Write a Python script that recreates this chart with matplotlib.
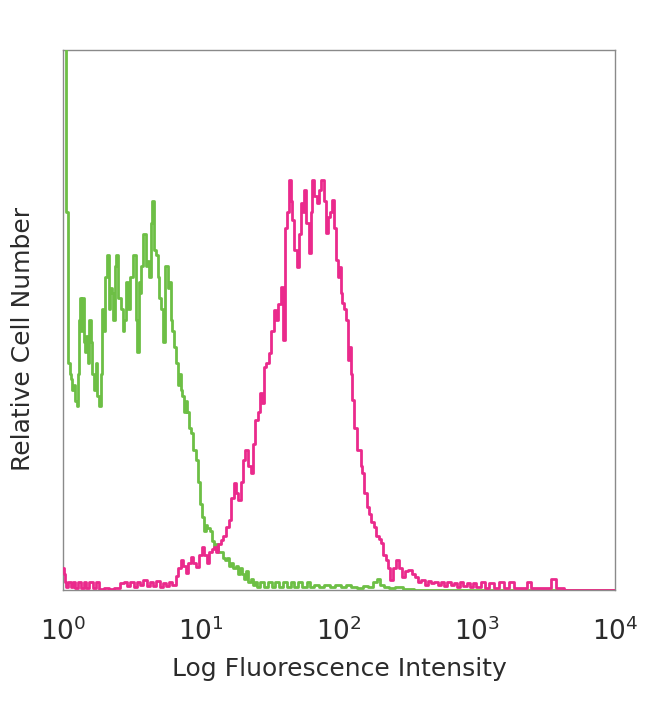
import numpy as np
import matplotlib
matplotlib.use("Agg")
import matplotlib.pyplot as plt

# flow histogram, 1024 channels over 4 decades (256 channels per decade)
# isotype control (green)
green_ch = [0, 4, 6, 9, 11, 13, 16, 19, 22, 24, 26, 28, 30, 32, 34, 37, 39, 41, 44, 47,
            50, 53, 56, 59, 62, 65, 68, 71, 74, 77, 80, 83, 86, 89, 91, 94, 97, 100, 103, 106,
            109, 112, 115, 117, 119, 122, 125, 128, 131, 134, 137, 139, 141, 144, 147, 150, 152, 155, 158, 161,
            164, 167, 170, 174, 177, 180, 184, 187, 190, 193, 196, 198, 201, 204, 208, 211, 214, 217, 220, 223,
            226, 229, 232, 236, 240, 244, 248, 252, 256, 260, 263, 266, 270, 274, 278, 282, 286, 290, 294, 298,
            302, 306, 310, 314, 318, 322, 326, 330, 334, 338, 342, 346, 350, 354, 358, 362, 370, 376, 384, 390,
            398, 404, 412, 418, 426, 432, 440, 448, 456, 462, 470, 480, 490, 500, 510, 520, 530, 540, 550, 562,
            570, 580, 586, 592, 600, 610, 620, 640, 660, 1023]
green_cnt = [125, 125, 70, 70, 42, 40, 39, 37, 38, 35, 34, 40, 50, 54, 48, 54, 46, 44, 47, 42,
             50, 46, 40, 37, 42, 36, 34, 40, 52, 48, 58, 62, 52, 56, 55, 50, 60, 62, 54, 54,
             52, 48, 50, 57, 57, 52, 58, 58, 62, 62, 50, 44, 57, 55, 60, 66, 66, 60, 61, 58,
             68, 72, 63, 62, 58, 54, 52, 46, 60, 60, 56, 57, 50, 48, 45, 42, 38, 40, 37, 36,
             33, 35, 33, 30, 29, 26, 24, 20, 16, 13.5, 11, 12, 11.5, 11, 9, 8, 8.5, 7, 7, 6,
             5.5, 6, 4.5, 5, 4, 4.5, 3, 4, 3, 2, 3.5, 1.5, 2, 1, 1.5, 0.5, 1.5, 0.5, 1.5, 0.5,
             1.5, 0.5, 1.5, 0.5, 1.5, 0.5, 1.5, 0.5, 1.5, 0.5, 1, 0.5, 1, 0.5, 1, 0.5, 1, 0.5, 0.4, 0.8,
             0.5, 1.5, 2, 1, 0.5, 0.3, 0.5, 0.2, 0, 0]

# stained sample (magenta)
mag_ch = [0, 2, 4, 8, 12, 16, 20, 26, 30, 36, 40, 46, 52, 58, 64, 70, 80, 90, 100, 110,
          116, 122, 128, 134, 140, 146, 152, 158, 164, 170, 176, 182, 188, 194, 200, 206, 212, 216, 221, 225,
          230, 235, 239, 244, 250, 255, 260, 264, 269, 273, 278, 282, 286, 290, 295, 300, 306, 310, 314, 319,
          323, 328, 332, 336, 341, 346, 351, 355, 359, 363, 367, 371, 375, 379, 384, 388, 393, 397, 401, 406,
          410, 413, 417, 421, 424, 427, 431, 436, 440, 443, 446, 449, 453, 458, 461, 464, 468, 473, 477, 482,
          486, 490, 494, 497, 501, 505, 508, 511, 514, 517, 519, 523, 527, 529, 532, 535, 538, 542, 547, 551,
          554, 557, 561, 566, 570, 574, 579, 583, 588, 592, 596, 601, 605, 610, 615, 620, 625, 631, 637, 644,
          650, 657, 662, 668, 674, 680, 686, 692, 698, 704, 710, 716, 722, 728, 734, 740, 746, 752, 758, 764,
          770, 780, 786, 796, 804, 814, 822, 832, 840, 856, 866, 872, 900, 912, 916, 940, 1023]
mag_cnt = [4, 3, 1.5, 0.5, 1.5, 0.5, 1.5, 0.3, 1.5, 0.3, 1.5, 0.3, 1.5, 0.3, 1.5, 0.2, 0.3, 0.2, 0.3, 1.3,
           1.5, 0.8, 1.5, 0.5, 1.5, 1, 1.8, 0.8, 1.5, 0.7, 1.6, 0.5, 1.2, 0.8, 1.5, 1, 2.5, 4, 5.6, 4.5,
           3.1, 5, 6.1, 5, 4.3, 6.5, 8, 6.5, 5, 7, 7.5, 8, 7, 8.5, 9.3, 10, 11.7, 13, 17, 19.8,
           18, 16.7, 20, 24, 25.9, 23, 21.7, 27, 31.5, 33, 36.5, 34.6, 41.3, 42, 43.9, 48, 51.9, 50, 53, 56.1,
           46.3, 67, 70, 75.9, 72, 68.5, 63, 59.8, 66, 71.7, 70, 74.1, 68, 62.4, 70, 75.9, 73, 71.7, 74, 75.9,
           72, 66.1, 69, 70, 72.2, 67, 61.1, 58, 59.8, 55, 53.1, 52, 50, 42.6, 45, 40, 35.2, 30, 25.9, 26,
           23, 21.7, 18, 15.4, 14, 12.5, 11.7, 10, 9.5, 8.7, 6.5, 5.6, 4, 1.9, 4, 5.6, 4, 2.4, 3.5, 3.7,
           3, 2.4, 1.5, 1.8, 1, 1.6, 1.2, 1.5, 1, 1.5, 0.8, 1.4, 1, 1.3, 0.6, 1.4, 0.8, 1.2, 0.5, 1.3,
           0.5, 1.5, 0.4, 1.2, 0.4, 1.5, 0.3, 1.4, 0.3, 0.4, 1.5, 0.3, 0.4, 2, 0.3, 0, 0]

tick_vals = [1, 10, 100, 1000, 10000]
tick_labels = ['$10^{0}$', '$10^{1}$', '$10^{2}$', '$10^{3}$', '$10^{4}$']

green_x = 10 ** (np.array(green_ch) / 256.0)
mag_x = 10 ** (np.array(mag_ch) / 256.0)

fig = plt.figure(figsize=(6.5, 7.04), dpi=100)
ax = fig.add_axes([0.097, 0.162, 0.849, 0.767])

ax.plot(green_x, green_cnt, drawstyle='steps-mid', color='#6dbf45', linewidth=2.0, zorder=3)
ax.plot(mag_x, mag_cnt, drawstyle='steps-mid', color='#ea2a8c', linewidth=2.0, zorder=4)

ax.set_xscale('log')
ax.set_xlim(1, 10000)
ax.set_ylim(0, 100)
ax.set_xticks(tick_vals)
ax.set_xticklabels(tick_labels)
ax.minorticks_off()
ax.set_yticks([])
ax.tick_params(axis='x', length=0, pad=20, labelsize=19, labelcolor='#2b2b2b')

for s in ax.spines.values():
    s.set_color('#8a8a8a')
    s.set_linewidth(1.0)

ax.set_xlabel('Log Fluorescence Intensity', fontsize=18, color='#2b2b2b', labelpad=8)
ax.set_ylabel('Relative Cell Number', fontsize=18, color='#2b2b2b')
ax.yaxis.set_label_coords(-0.05, 0.465)

fig.savefig('out.png', dpi=100)
